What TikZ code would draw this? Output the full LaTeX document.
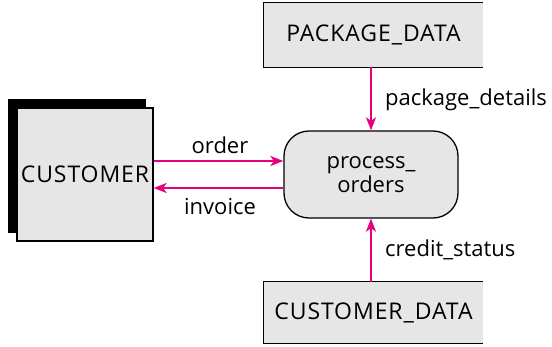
\documentclass[tikz,border=0pt]{standalone}
\usepackage{fontspec}
\setmainfont{Open Sans}
\usetikzlibrary{arrows.meta}
\definecolor{flowpink}{HTML}{E6007E}
\definecolor{boxgray}{HTML}{E6E6E6}
\begin{document}
\begin{tikzpicture}[x=1pt,y=1pt,
  every node/.style={font=\fontsize{22}{24}\selectfont, inner sep=0pt},
  capsfont/.style={font=\fontsize{23}{24}\selectfont\addfontfeatures{LetterSpace=4}},
  entity/.style={draw=black, line width=1.3pt, fill=boxgray, minimum width=136pt, minimum height=133pt, capsfont},
  shadowbox/.style={fill=black, minimum width=138pt, minimum height=134pt},
  proc/.style={draw=black, line width=1.3pt, fill=boxgray, rounded corners=25pt, minimum width=174pt, minimum height=87pt, align=center},
  store/.style={fill=boxgray, minimum width=219pt, capsfont},
  storeline/.style={draw=black, line width=1.3pt},
  flow/.style={draw=flowpink, line width=2pt, -{Stealth[length=13pt,width=10pt,inset=3.5pt]}},
  lbl/.style={text=black}]
\useasboundingbox (0,0) rectangle (552,-346);
% customer
\node[shadowbox] (shadow) at (77,-166) {};
\node[entity] (customer) at (85,-174.5) {CUSTOMER};
% process
\node[proc] (process) at (371,-174.5) {process\_\\orders};
% data stores
\node[store, minimum height=64pt] (pkg) at (373.5,-35) {PACKAGE\_DATA};
\draw[storeline] (pkg.north east) -- (pkg.north west) -- (pkg.south west) -- (pkg.south east);
\node[store, minimum height=61pt] (cdata) at (373.5,-312.5) {CUSTOMER\_DATA};
\draw[storeline] (cdata.north east) -- (cdata.north west) -- (cdata.south west) -- (cdata.south east);
% flows
\draw[flow] ([yshift=13.5pt]customer.east) -- ([yshift=13.5pt]process.west);
\draw[flow] ([yshift=-13.5pt]process.west) -- ([yshift=-13.5pt]customer.east);
\draw[flow] (pkg.south -| process.north) -- (process.north);
\draw[flow] (cdata.north -| process.south) -- (process.south);
% labels
\node[lbl] (lorder) at (220,-145) {order};
\node[lbl] (linvoice) at (220,-207) {invoice};
\node[lbl, anchor=west] (lpkg) at (385,-100) {package\_details};
\node[lbl, anchor=west] (lcredit) at (385,-250) {credit\_status};
\end{tikzpicture}
\end{document}
